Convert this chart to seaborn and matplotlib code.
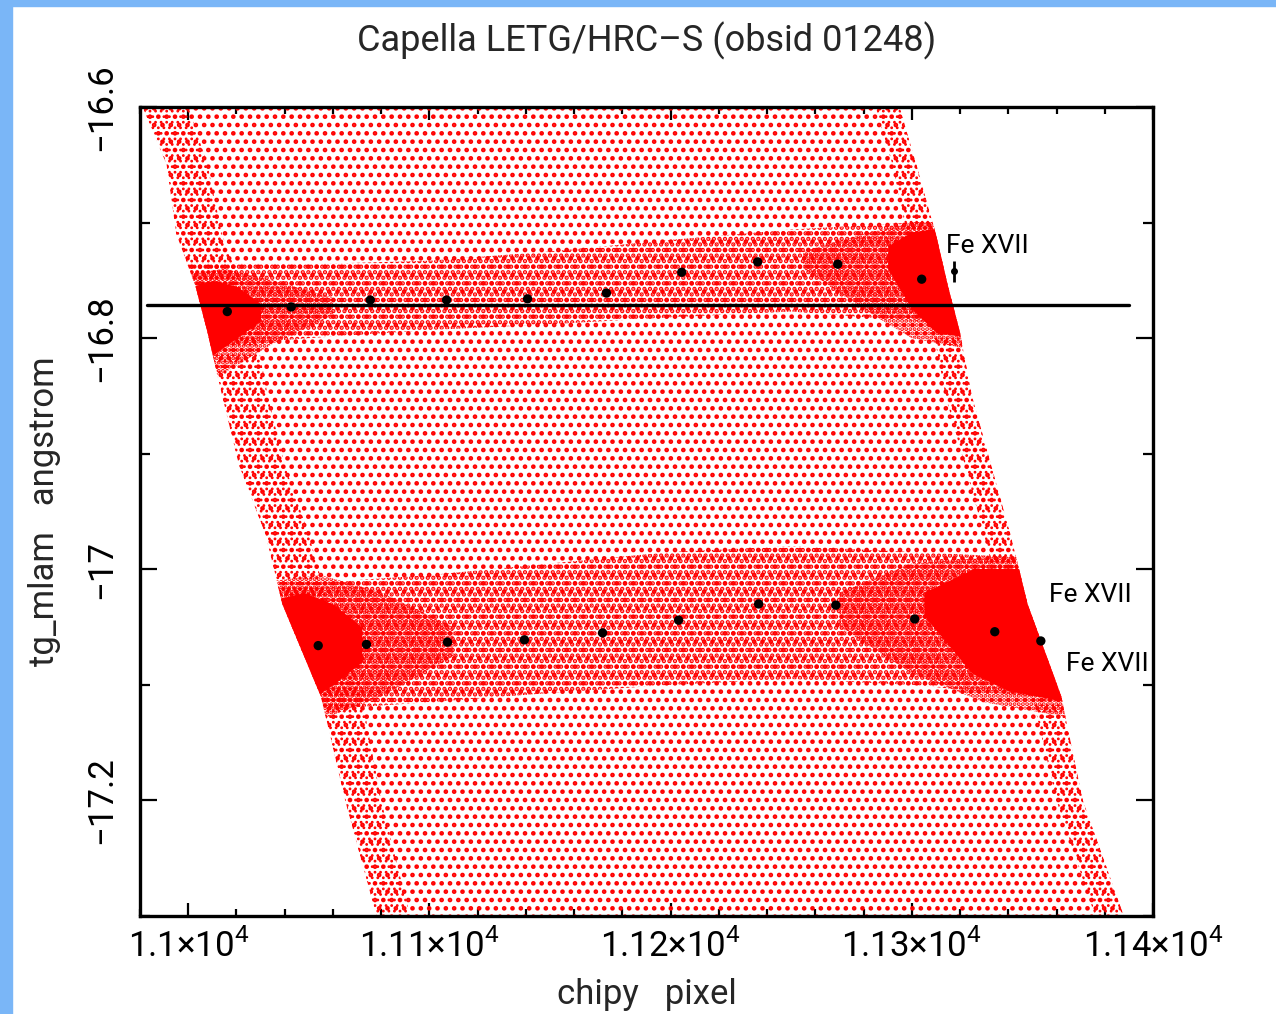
import numpy as np
import matplotlib
matplotlib.use("Agg")
import matplotlib.pyplot as plt
from matplotlib.patches import Polygon, Rectangle
from matplotlib.ticker import MultipleLocator, FuncFormatter
import seaborn as sns

# ---- data ----
# envelope of the event cloud: x (chipy) of the left/right edge at each wavelength
edge_y = [-16.60, -16.65, -16.71, -16.755, -16.795, -16.85, -16.91, -16.97, -17.03, -17.11, -17.20, -17.30]
left_x = [10981, 10991, 10995, 11003, 11008, 11014, 11021, 11032, 11039, 11055, 11065, 11078]
right_x = [11295, 11302, 11310, 11315, 11320, 11325, 11333, 11341, 11348, 11362, 11371, 11388]
# denser strip just inside each edge
left_inner_x = [11000, 11008, 11014, 11022, 11028, 11033, 11040, 11050, 11058, 11072, 11080, 11092]
right_inner_x = [11285, 11292, 11298, 11303, 11309, 11314, 11322, 11330, 11337, 11350, 11360, 11376]

# the two Fe XVII line bands
top_band_x = [10990, 11050, 11100, 11150, 11200, 11250, 11300, 11330]
top_band_hi = [-16.735, -16.736, -16.733, -16.725, -16.715, -16.706, -16.700, -16.700]
top_band_lo = [-16.810, -16.800, -16.793, -16.788, -16.782, -16.777, -16.785, -16.790]
bot_band_x = [11030, 11100, 11150, 11200, 11250, 11300, 11350, 11380]
bot_band_hi = [-17.015, -17.005, -16.995, -16.985, -16.980, -16.985, -16.990, -16.990]
bot_band_lo = [-17.125, -17.115, -17.107, -17.100, -17.095, -17.100, -17.110, -17.120]

# crowded zones where the bands meet the edges: (x, lower y, upper y)
hot_halo = {
    "top_left": ([10998, 11015, 11035, 11060], [-16.84, -16.83, -16.805, -16.78], [-16.745, -16.74, -16.75, -16.765]),
    "top_right": ([11255, 11280, 11300, 11325], [-16.74, -16.775, -16.80, -16.81], [-16.725, -16.71, -16.70, -16.70]),
    "bot_left": ([11035, 11055, 11080, 11110], [-17.14, -17.13, -17.11, -17.075], [-17.01, -17.005, -17.02, -17.05]),
    "bot_right": ([11270, 11300, 11330, 11370], [-17.05, -17.09, -17.115, -17.13], [-17.02, -16.995, -16.99, -16.99]),
}
hot_core = {
    "top_left": ([11002, 11010, 11020, 11030], [-16.82, -16.815, -16.80, -16.785], [-16.755, -16.75, -16.755, -16.77]),
    "top_right": ([11290, 11300, 11310, 11325], [-16.74, -16.775, -16.795, -16.80], [-16.72, -16.708, -16.705, -16.705]),
    "bot_left": ([11038, 11048, 11060, 11072], [-17.12, -17.115, -17.10, -17.08], [-17.025, -17.02, -17.03, -17.05]),
    "bot_right": ([11305, 11325, 11340, 11365], [-17.04, -17.09, -17.105, -17.115], [-17.02, -17.00, -17.00, -17.00]),
}

# binned centroids (black dots)
top_bin_x = [11016.2, 11042.7, 11075.5, 11107.1, 11140.7, 11173.4, 11204.6, 11236.1, 11269.3, 11304.1]
top_bin_y = [-16.777, -16.773, -16.767, -16.767, -16.766, -16.761, -16.743, -16.734, -16.736, -16.749]
bot_bin_x = [11053.9, 11073.9, 11107.5, 11139.4, 11171.8, 11203.3, 11236.5, 11268.5, 11301.2, 11334.4, 11353.5]
bot_bin_y = [-17.066, -17.065, -17.063, -17.061, -17.055, -17.044, -17.030, -17.031, -17.043, -17.054, -17.062]

# reference wavelength line and single error-bar marker
ref_line_x = [10983, 11390]
ref_line_y = [-16.771, -16.771]
err_x, err_y, err_dy = [11317.4], [-16.742], [0.009]

labels = ["Fe XVII", "Fe XVII", "Fe XVII"]
label_x = [11314, 11357, 11364]
label_y = [-16.720, -17.022, -17.082]

# ---- style ----
sns.set_style("ticks")
plt.rcParams["font.family"] = ["Roboto", "DejaVu Sans"]
plt.rcParams["mathtext.fontset"] = "custom"
plt.rcParams["mathtext.rm"] = "Roboto"

fig = plt.figure(figsize=(12.76, 10.14), dpi=100, facecolor="white")
ax = fig.add_axes([0.1097, 0.0966, 0.7939, 0.7979])
red = "#ff0000"

env_patch = Polygon(np.column_stack([left_x + right_x[::-1], edge_y + edge_y[::-1]]),
                    closed=True, transform=ax.transData)


def dots(fill_func, *args, hatch, lw):
    # stippled (dotted) fill standing in for the individual events
    with plt.rc_context({"hatch.linewidth": lw}):
        art = fill_func(*args, facecolor="none", edgecolor=red, hatch=hatch, lw=0)
    art.set_clip_path(env_patch)
    return art


dots(ax.fill_betweenx, edge_y, left_x, right_x, hatch="..", lw=2.1)
dots(ax.fill_betweenx, edge_y, left_x, left_inner_x, hatch="...", lw=1.2)
dots(ax.fill_betweenx, edge_y, right_inner_x, right_x, hatch="...", lw=1.2)
dots(ax.fill_between, top_band_x, top_band_lo, top_band_hi, hatch="...", lw=2.2)
dots(ax.fill_between, bot_band_x, bot_band_lo, bot_band_hi, hatch="...", lw=2.2)
for hx, hlo, hhi in hot_halo.values():
    dots(ax.fill_between, hx, hlo, hhi, hatch="....", lw=2.0)
for hx, hlo, hhi in hot_core.values():
    ax.fill_between(hx, hlo, hhi, color=red, lw=0).set_clip_path(env_patch)

ax.plot(ref_line_x, ref_line_y, color="black", lw=2.4, zorder=3)
sns.scatterplot(x=top_bin_x + bot_bin_x, y=top_bin_y + bot_bin_y, color="black",
                s=45, edgecolor="none", ax=ax, zorder=4)
ax.errorbar(err_x, err_y, yerr=err_dy, fmt="o", color="black", ms=4, lw=2, capsize=0, zorder=4)
for t, tx, ty in zip(labels, label_x, label_y):
    ax.text(tx, ty, t, fontsize=19, ha="left", va="center", color="black")

# ---- axes ----
ax.set_xlim(10980, 11400)
ax.set_ylim(-17.3, -16.6)
ax.xaxis.set_major_locator(MultipleLocator(100))
ax.xaxis.set_minor_locator(MultipleLocator(20))
ax.yaxis.set_major_locator(MultipleLocator(0.2))
ax.yaxis.set_minor_locator(MultipleLocator(0.1))
ax.xaxis.set_major_formatter(FuncFormatter(lambda v, p: f"{v / 1e4:g}\u00d710$^{{4}}$"))
ax.yaxis.set_major_formatter(FuncFormatter(lambda v, p: f"{v:g}".replace("-", "\u2212")))
ax.tick_params(which="both", direction="in", top=True, right=True, width=1.6, colors="black")
ax.tick_params(axis="x", which="major", length=9.5, pad=9, labelsize=25)
ax.tick_params(axis="x", which="minor", length=5)
ax.tick_params(axis="y", which="major", length=12, pad=16, labelsize=25, labelrotation=90)
ax.tick_params(axis="y", which="minor", length=7)
plt.setp(ax.get_yticklabels(), va="center")
for sp in ax.spines.values():
    sp.set_linewidth(2.4)
    sp.set_color("black")

ax.set_xlabel("chipy   pixel", fontsize=25, labelpad=10)
ax.set_ylabel("tg_mlam   angstrom", fontsize=25, labelpad=17)
ax.set_title("Capella LETG/HRC\u2013S (obsid 01248)", fontsize=26, pad=40)

# light blue frame strips on the left and top of the image
fig.patches.append(Rectangle((0, 0), 12 / 1276, 1, transform=fig.transFigure,
                             color="#7ab6f7", zorder=0))
fig.patches.append(Rectangle((0, 1 - 6 / 1014), 1, 6 / 1014, transform=fig.transFigure,
                             color="#7ab6f7", zorder=0))

fig.savefig("out.png", dpi=100, facecolor="white")
